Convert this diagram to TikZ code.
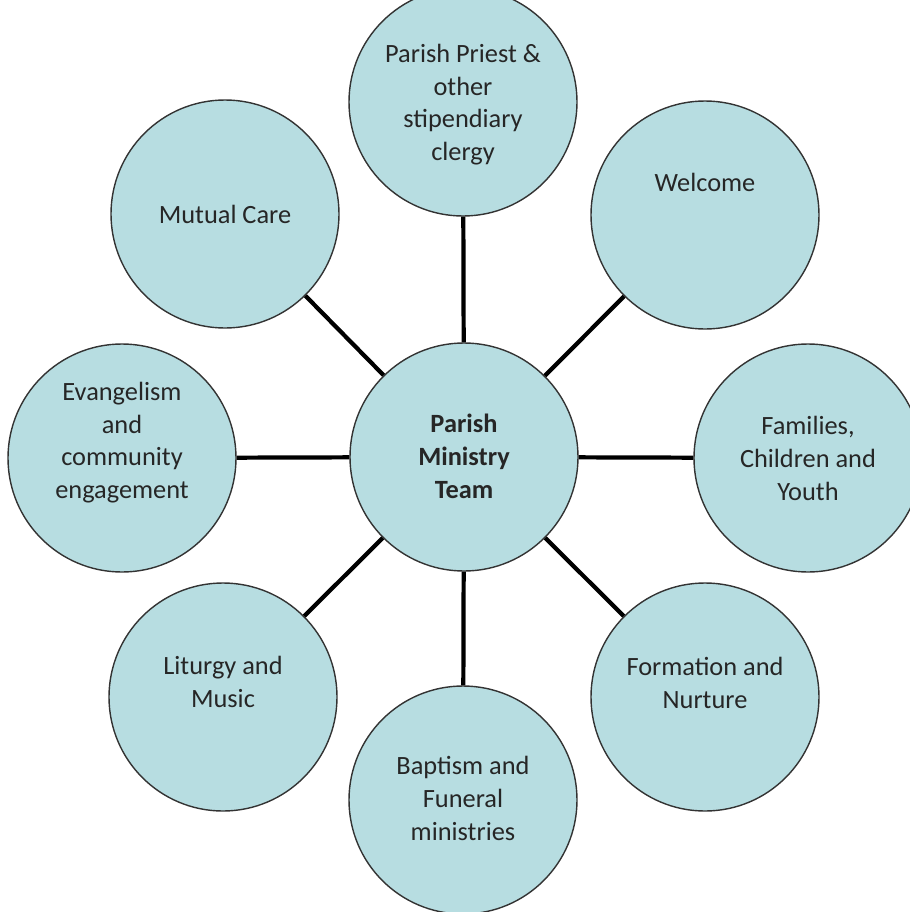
\documentclass[tikz,border=0pt]{standalone}
\usepackage{fontspec}
\setmainfont{Carlito}
\usepackage{tikz}
\usetikzlibrary{positioning}

\definecolor{ringfill}{HTML}{B7DDE1}
\definecolor{ringline}{HTML}{333333}

\begin{document}
\begin{tikzpicture}[
		ministry/.style={circle, draw=ringline, line width=.8pt, fill=ringfill, minimum size=4.56cm, inner sep=0pt,
			align=center, text=black!85, font=\fontsize{15}{18.5}\selectfont, text depth=0pt, text height=#1},
		ministry/.default=0pt,
		spoke/.style={line width=2.4pt, black}
	]
			\useasboundingbox (0,0) rectangle (18.18,-18.24);
			\node[ministry=1.64cm, font=\fontsize{15}{18.5}\selectfont\bfseries] (team) at (9.28,-9.14) {Parish\\Ministry\\Team};
			\node[ministry=2.34cm] (priest) at (9.26,-2.04) {Parish Priest \&\\other\\stipendiary\\clergy};
			\node[ministry, text depth=.96cm] (welcome) at (14.10,-4.30) {Welcome};
			\node[ministry=1.68cm] (families) at (16.16,-9.16) {Families,\\Children and\\Youth};
			\node[ministry=.46cm] (formation) at (14.10,-13.94) {Formation and\\Nurture};
			\node[ministry=1.60cm] (baptism) at (9.26,-16.00) {Baptism and\\Funeral\\ministries};
			\node[ministry=.42cm] (liturgy) at (4.46,-13.94) {Liturgy and\\Music};
			\node[ministry=1.62cm] (evangelism) at (2.44,-9.16) {Evangelism\\and\\community\\engagement};
			\node[ministry=.36cm] (mutual) at (4.50,-4.28) {Mutual Care};
			% spokes from the team circle
			\draw[spoke] (team) -- (priest);
			\draw[spoke] (team) -- (welcome);
			\draw[spoke] (team) -- (families);
			\draw[spoke] (team) -- (formation);
			\draw[spoke] (team) -- (baptism);
			\draw[spoke] (team) -- (liturgy);
			\draw[spoke] (team) -- (evangelism);
			\draw[spoke] (team) -- (mutual);
		\end{tikzpicture}
\end{document}
